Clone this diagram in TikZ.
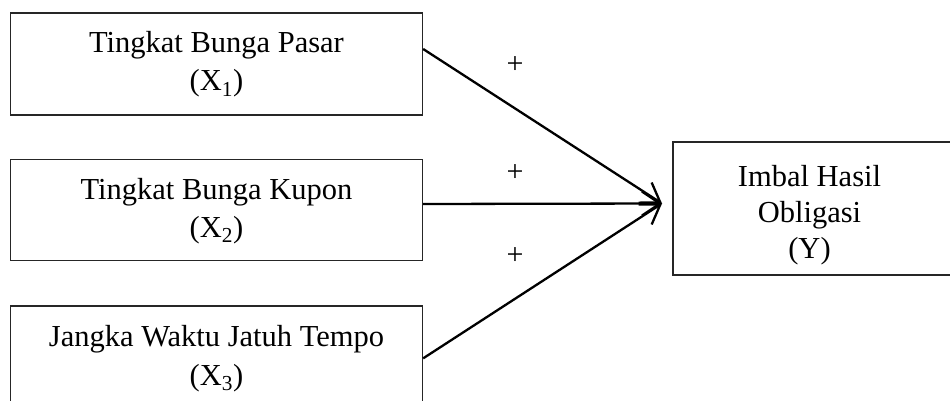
\documentclass[tikz,border=0pt]{standalone}
\usepackage{fontspec}
\setmainfont{Liberation Serif}
\usetikzlibrary{arrows.meta}
\begin{document}
\begin{tikzpicture}[x=1pt,y=-1pt,
  box/.style={draw=black!85, line width=1.3pt, rectangle, inner sep=0pt},
  lbl/.style={inner sep=0pt, anchor=base, font=\fontsize{30.5}{30.5}\selectfont},
  conn/.style={line width=2.3pt, -{Straight Barb[length=18pt,width=24pt,line width=2.3pt]}},
  plus/.style={inner sep=0pt, font=\fontsize{30}{30}\selectfont}]
\clip (0,0) rectangle (950,401);
\fill[white] (0,0) rectangle (950,401);
% boxes
\node[box, minimum width=412pt, minimum height=102pt] (x1) at (216.5,64) {};
\node[box, minimum width=412pt, minimum height=101.5pt] (x2) at (216.5,210) {};
\node[box, minimum width=412pt, minimum height=124pt] (x3) at (216.5,368) {};
\node[box, minimum width=307pt, minimum height=133pt] (y) at (826.5,208.5) {};
% texts
\node[lbl] (t1a) at (216.5,53) {Tingkat Bunga Pasar};
\node[lbl] (t1b) at (216.5,91) {(X\textsubscript{1})};
\node[lbl] (t2a) at (216.5,199) {Tingkat Bunga Kupon};
\node[lbl] (t2b) at (216.5,237) {(X\textsubscript{2})};
\node[lbl] (t3a) at (216.5,346) {Jangka Waktu Jatuh Tempo};
\node[lbl] (t3b) at (216.5,385) {(X\textsubscript{3})};
\node[lbl] (ya) at (809.5,186) {Imbal Hasil};
\node[lbl] (yb) at (809.5,222) {Obligasi};
\node[lbl] (yc) at (809.5,258) {(Y)};
% connectors
\coordinate (tip) at (662,203.5);
\draw[conn] ([yshift=15pt]x1.east) -- (tip);
\draw[conn] ([yshift=6pt]x2.east) -- (tip);
\draw[conn] ([yshift=-53pt]x3.north east) -- (tip);
% signs
\node[plus] (p1) at (515,65) {+};
\node[plus] (p2) at (515,173) {+};
\node[plus] (p3) at (515,256) {+};
\end{tikzpicture}
\end{document}
